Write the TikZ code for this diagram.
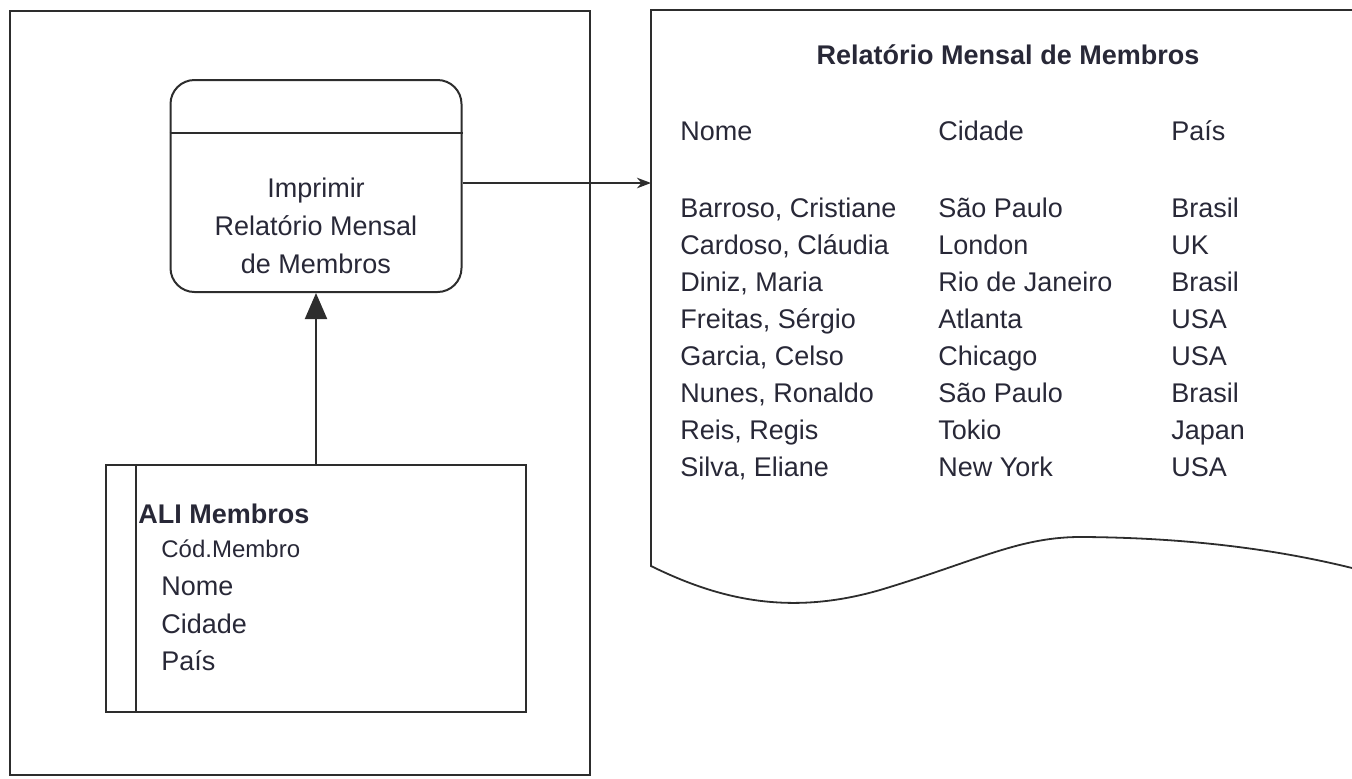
\documentclass[tikz,border=0pt]{standalone}
\usepackage{fontspec}
\setmainfont{Liberation Sans}
\usetikzlibrary{arrows.meta}
\definecolor{txt}{RGB}{40,40,55}
\definecolor{lin}{RGB}{45,45,45}

\begin{document}
\begin{tikzpicture}[x=0.5pt,y=-0.5pt,>=Stealth,
	every node/.style={text=txt,font=\fontsize{13.5}{19}\selectfont},
	procbox/.style={draw=lin,line width=1pt,rounded corners=12pt,minimum width=145.5pt,minimum height=106pt},
	storebox/.style={draw=lin,line width=1.2pt,minimum width=210pt,minimum height=123.5pt},
	field/.style={anchor=base west,inner sep=0pt}]
	\useasboundingbox (0,0) rectangle (1352,778);
	% area of the system
	\draw[lin,line width=1pt] (10,11) rectangle (590,775);
	% process
	\node[procbox] (proc) at (316,186) {};
	\coordinate (sep) at (0,133);
	\draw[lin,line width=1.2pt] (proc.west |- sep) -- (proc.east |- sep);
	\node[align=center] (proctext) at (316,226) {Imprimir\\Relatório Mensal\\de Membros};
	% data store
	\node[storebox] (ali) at (316,588.5) {};
	\draw[lin,line width=1.2pt] (ali.north west) ++(31,0) -- ++(0,247);
	\node[field,font=\fontsize{13.5}{19}\selectfont\bfseries] (aliname) at (138,523) {ALI Membros};
	\node[field,font=\fontsize{12}{19}\selectfont] (f1) at (161,557) {Cód.Membro};
	\node[field] (f2) at (161,595) {Nome};
	\node[field] (f3) at (161,633) {Cidade};
	\node[field] (f4) at (161,670) {País};
	\draw[lin,line width=1pt,-{Triangle[length=13pt,width=11pt]}] (ali.north) -- (proc.south);
	% report
	\draw[lin,line width=0.9pt] (1360,10) -- (651,10) -- (651,566)
		.. controls (720,600) and (790,616) .. (880,590)
		.. controls (980,560) and (1020,536) .. (1085,537)
		.. controls (1200,538) and (1290,552) .. (1360,570);
	\coordinate (docin) at (651,183);
	\draw[lin,line width=0.9pt,->] (proc.east |- docin) -- (docin);
	\node[font=\fontsize{13.5}{19}\selectfont\bfseries] (title) at (1008,55) {Relatório Mensal de Membros};
	\node[field] (hnome) at (680,140) {Nome};
	\node[field] (hcid) at (938,140) {Cidade};
	\node[field] (hpais) at (1171,140) {País};
	\foreach \nm/\cid/\pais [count=\i from 0] in {Barroso{,} Cristiane/São Paulo/Brasil,
		Cardoso{,} Cláudia/London/UK, Diniz{,} Maria/Rio de Janeiro/Brasil,
		Freitas{,} Sérgio/Atlanta/USA, Garcia{,} Celso/Chicago/USA,
		Nunes{,} Ronaldo/São Paulo/Brasil, Reis{,} Regis/Tokio/Japan,
		Silva{,} Eliane/New York/USA}{
		\node[field] (nm\i) at (680,217+37.1*\i) {\nm};
		\node[field] (cid\i) at (938,217+37.1*\i) {\cid};
		\node[field] (pais\i) at (1171,217+37.1*\i) {\pais};
	}
\end{tikzpicture}
\end{document}
